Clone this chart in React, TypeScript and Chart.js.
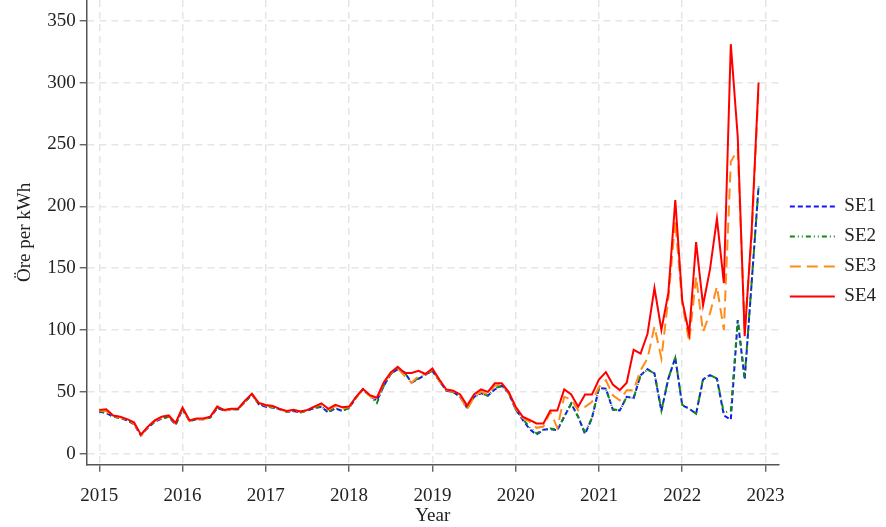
import React, { useEffect, useRef } from "react";
import { Chart, registerables } from "chart.js";

Chart.register(...registerables);

const YEARS = [2015, 2016, 2017, 2018, 2019, 2020, 2021, 2022];
const MONTHS = [1, 2, 3, 4, 5, 6, 7, 8, 9, 10, 11, 12];
const SERIES_NAMES = ["SE1", "SE2", "SE3", "SE4"];
const X_TICKS = [2015, 2016, 2017, 2018, 2019, 2020, 2021, 2022, 2023];
const Y_TICKS = [0, 50, 100, 150, 200, 250, 300, 350];

const SE1 = [
  34, 33, 30, 29, 27, 24, 15, 21, 26, 28.5, 30, 23.5,
  36, 26.5, 28, 28, 29.5, 37, 35, 36, 36, 42, 48, 40,
  38, 37.5, 36, 34, 34.5, 33.5, 35, 37, 38, 33.4, 36.8, 34.7,
  37, 45.5, 52, 47, 43, 55, 64.5, 68.4, 65.8, 57.4, 60.5, 64,
  67, 59, 51, 50, 46, 37, 46, 49, 47, 52, 55, 49,
  36, 27.6, 20, 15.5, 19.5, 20, 19, 30, 40.5, 30, 16, 29,
  53, 52.7, 35.7, 35, 46, 45, 63.5, 68.4, 65, 34.6, 60.8, 77.6,
  39.2, 36.5, 32.4, 60, 63.5, 60.8, 31, 27.6, 108, 60, 138, 216,
];

const SE2 = [
  34.5, 33, 30, 29, 27, 24.5, 15, 21.5, 26, 28.5, 30, 23.5,
  36, 26.5, 28, 28, 29.5, 37.5, 35, 36, 36, 42, 48, 40,
  38.5, 37.5, 36, 34, 34.5, 33.5, 35, 37, 38.5, 34, 37, 35,
  37, 45.5, 52, 46.5, 41, 55, 64.5, 68.4, 65.5, 58, 61, 64,
  67, 59, 51, 50, 46, 37.5, 46, 49, 47, 53, 55, 49,
  36, 28.5, 21.5, 16.5, 19.5, 20.5, 19.5, 30, 40.5, 30, 17, 29,
  53, 52.5, 36, 35, 46, 45, 63.5, 68, 65, 35, 61, 77.6,
  39.5, 36.5, 32.4, 60.5, 63.5, 61, 33, 35, 108, 62, 138, 215,
];

const SE3 = [
  35, 34.5, 30.5, 29.5, 27.5, 24.5, 15, 21.5, 26.5, 29.5, 30.5, 24.5,
  37, 26.5, 28, 28, 29.5, 38.5, 35, 36, 36, 42.5, 48, 40.5,
  39, 38, 36, 34.2, 35, 34, 35, 38, 40, 35.5, 38.5, 37,
  37.5, 45.5, 52, 46.5, 44, 57, 65, 69, 63, 57.4, 63, 64.5,
  68, 59, 51.5, 50.5, 46.5, 35.7, 46, 50, 48, 55, 56, 49.5,
  37, 29, 26, 21, 22, 34, 21, 46, 44, 35, 38, 42,
  54, 59.5, 47.3, 43.2, 51.4, 51.4, 67.6, 77, 102.7, 77, 125.7, 188,
  121.6, 90.5, 143, 98.6, 113.5, 135, 100, 236, 246, 100, 175, 295,
];

const SE4 = [
  35.5, 36, 31, 30, 28, 25.5, 15.5, 22, 27, 30, 31, 25,
  37.5, 27, 28.5, 28.5, 30, 38, 35.5, 36.5, 36.5, 43, 48.5, 41,
  39.5, 38.7, 36.3, 34.7, 35.5, 34.2, 35.5, 38.2, 40.8, 36.3, 39.5, 37.6,
  38.2, 46, 52.4, 47.4, 45.3, 57.9, 65.8, 70.3, 65.3, 65.3, 67, 64.5,
  69, 60, 52, 51, 48, 39, 48, 52, 50, 57, 57, 50,
  38, 30, 27.5, 24.5, 24.5, 35, 35, 52, 48, 38, 48, 48,
  60, 66, 56, 51.5, 57.5, 84, 81, 97, 134, 100, 130, 205,
  124, 97, 171, 120, 149, 190, 138, 331, 256, 95, 180, 300,
];

const FONT = "'Liberation Serif', 'Times New Roman', serif";
const TEXT = "#222222";
const AXIS = "#555555";
const GRID = "#e6e6e6";

export default function App() {
  const ref = useRef<HTMLCanvasElement>(null);

  useEffect(() => {
    const canvas = ref.current;
    if (!canvas) return;
    const xs = YEARS.flatMap((y) => MONTHS.map((m) => y + (m - 1) / 12));
    const pts = (arr: number[]) => arr.map((v, i) => ({ x: xs[i], y: v }));

    const styles = [
      { color: "#1414ff", dash: [5, 3], order: 4 },
      { color: "#118a11", dash: [5, 3, 1, 3, 1, 3], order: 3 },
      { color: "#ff8c1a", dash: [11, 6], order: 2 },
      { color: "#ff0000", dash: [], order: 1 },
    ];
    const values = [SE1, SE2, SE3, SE4];

    const gridOpts = {
      color: GRID,
      lineWidth: 1.5,
      tickLength: 7,
      tickColor: AXIS,
      tickWidth: 1.3,
      tickBorderDash: [],
    };
    const borderOpts = { color: AXIS, width: 1.5, dash: [7, 5] };
    const font = { family: FONT, size: 19 };

    const chart = new Chart(canvas, {
      type: "line",
      data: {
        datasets: SERIES_NAMES.map((name, k) => ({
          label: name,
          data: pts(values[k]),
          borderColor: styles[k].color,
          backgroundColor: styles[k].color,
          borderWidth: 2,
          borderDash: styles[k].dash,
          order: styles[k].order,
          pointRadius: 0,
          tension: 0,
          fill: false,
        })),
      },
      options: {
        animation: false,
        responsive: false,
        devicePixelRatio: 1,
        layout: { padding: 0 },
        plugins: {
          tooltip: { enabled: false },
          legend: {
            position: "right",
            align: "start",
            title: {
              display: true,
              text: "",
              font: { family: FONT, size: 10, lineHeight: 1 },
              padding: { top: 176, bottom: 0 },
            },
            labels: {
              usePointStyle: true,
              pointStyle: "line",
              pointStyleWidth: 45,
              boxHeight: 19,
              padding: 11,
              color: TEXT,
              font,
              sort: (a: any, b: any) => a.datasetIndex - b.datasetIndex,
              generateLabels: (c: any) =>
                (Chart.defaults.plugins.legend.labels as any)
                  .generateLabels(c)
                  .map((item: any) => {
                    const ds = c.data.datasets[item.datasetIndex];
                    return {
                      ...item,
                      lineDash: ds.borderDash,
                      lineWidth: ds.borderWidth,
                      strokeStyle: ds.borderColor,
                      lineCap: "butt",
                    };
                  }),
            },
          },
        },
        scales: {
          x: {
            type: "linear",
            min: 2014.849,
            max: 2023.16,
            afterBuildTicks: (s: any) => {
              s.ticks = X_TICKS.map((v) => ({ value: v }));
            },
            afterFit: (s: any) => {
              s.height = 62.3;
              s.paddingLeft = 0;
              s.paddingRight = 0;
            },
            ticks: {
              callback: (v: any) => String(v),
              padding: 14.5,
              color: TEXT,
              font: { family: FONT, size: 19, lineHeight: 1 },
              maxRotation: 0,
              autoSkip: false,
            },
            grid: gridOpts,
            border: borderOpts,
            title: {
              display: true,
              text: "Year",
              color: TEXT,
              font,
              padding: { top: 0, bottom: 0 },
            },
          },
          y: {
            type: "linear",
            min: -8.8,
            max: 366.7,
            afterBuildTicks: (s: any) => {
              s.ticks = Y_TICKS.map((v) => ({ value: v }));
            },
            afterFit: (s: any) => {
              s.width = 86.7;
              s.paddingTop = 0;
              s.paddingBottom = 0;
            },
            ticks: {
              callback: (v: any) => String(v),
              padding: 4,
              color: TEXT,
              font,
            },
            grid: gridOpts,
            border: borderOpts,
            title: {
              display: true,
              text: "Öre per kWh",
              color: TEXT,
              font,
              padding: { top: 14, bottom: 0 },
            },
          },
        },
      },
    } as any);

    return () => chart.destroy();
  }, []);

  return (
    <canvas
      ref={ref}
      width={886}
      height={527}
      style={{ position: "fixed", left: 0, top: 0, width: 886, height: 527 }}
    />
  );
}
